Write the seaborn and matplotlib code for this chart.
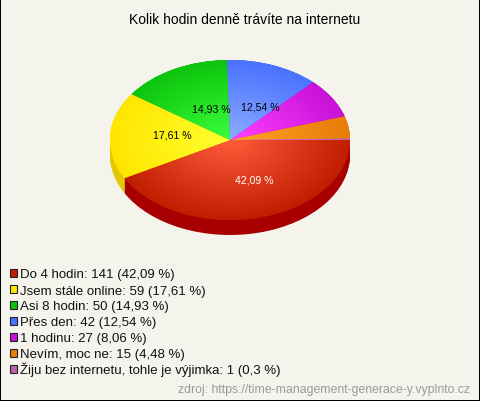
import numpy as np
import matplotlib
matplotlib.use("Agg")
import matplotlib.pyplot as plt
from matplotlib.patches import Rectangle
import seaborn as sns

# Chart data
title = "Kolik hodin denně trávíte na internetu"
source = "zdroj: https://time-management-generace-y.vyplnto.cz"
categories = ["Do 4 hodin", "Jsem stále online", "Asi 8 hodin", "Přes den", "1 hodinu",
              "Nevím, moc ne", "Žiju bez internetu, tohle je výjimka"]
counts = [141, 59, 50, 42, 27, 15, 1]
percents = ["42,09", "17,61", "14,93", "12,54", "8,06", "4,48", "0,3"]

# Colours for each slice
edge_colors = ["#c01e00", "#ffe600", "#0cc40c", "#4a72ff", "#c812d8", "#e87c08", "#c060b0"]
center_colors = ["#ff5c3c", "#ffff30", "#3cff3c", "#8cacff", "#ff40ff", "#ffa424", "#e080d0"]
side_colors = ["#a80000", "#e2c800", "#0a9a0a", "#3a58c8", "#9a10a8", "#b86000", "#90488a"]

WIDTH, HEIGHT = 480, 402
BG = "#f5f4ec"
FONT = "Liberation Sans"


def px_x(x):
    return x / WIDTH


def px_y(y):
    return 1 - y / HEIGHT


sns.set_theme(style="white")
plt.rcParams["font.family"] = FONT

fig = plt.figure(figsize=(WIDTH / 100, HEIGHT / 100), dpi=100,
                 facecolor=BG, edgecolor="black", linewidth=1.2)

# Pie area: ellipse 240 x 160 px with 15 px of depth below it
depth = 15 / 80
ax = fig.add_axes([px_x(110), px_y(236), 240 / WIDTH, 175 / HEIGHT])

# Side of the pie, stacked copies going down
for offset in np.linspace(depth, 0, 16):
    ax.pie(counts, colors=side_colors, startangle=0, counterclock=False, radius=1,
           center=(0, -offset), wedgeprops={"linewidth": 0}, frame=True)

wedges, _ = ax.pie(counts, colors=edge_colors, startangle=0, counterclock=False, radius=1,
                   center=(0, 0), wedgeprops={"linewidth": 0}, frame=True)

# Radial shading on the top of each slice
xx, yy = np.meshgrid(np.linspace(-1, 1, 400), np.linspace(-1, 1, 400))
rr = np.sqrt(xx ** 2 + yy ** 2)
for wedge, inner, outer in zip(wedges, center_colors, edge_colors):
    cmap = sns.blend_palette([inner, outer], as_cmap=True)
    img = ax.imshow(rr, extent=(-1, 1, -1, 1), origin="lower", cmap=cmap, vmin=0, vmax=1,
                    aspect="auto", zorder=3)
    img.set_clip_path(wedge)

ax.set_aspect("auto")
ax.set_xlim(-1, 1)
ax.set_ylim(-1 - depth, 1)
ax.axis("off")

# Percent labels on the four biggest slices
label_xy = [(254, 181), (172, 136), (211, 110), (260, 107)]
label_colors = ["white", "black", "black", "black"]
for pct, (x, y), col in zip(percents, label_xy, label_colors):
    fig.text(px_x(x), px_y(y), f"{pct} %", color=col, fontsize=7.6, ha="center", va="center")

fig.text(px_x(245), px_y(20), title, color="black", fontsize=10, ha="center", va="center")

# Legend below the pie, one row every 16 px
for i, (cat, n, pct, col) in enumerate(zip(categories, counts, percents, edge_colors)):
    row_y = 274 + 16 * i
    fig.add_artist(Rectangle((px_x(9.5), px_y(row_y + 4)), 7 / WIDTH, 8 / HEIGHT, transform=fig.transFigure,
                             facecolor=col, edgecolor="#222222", linewidth=0.8))
    fig.text(px_x(20), px_y(row_y + 4.5), f"{cat}: {n} ({pct} %)", color="#111111",
             fontsize=9.55, ha="left", va="baseline")

fig.text(px_x(470), px_y(390), source, color="#999999", fontsize=8.85, ha="right", va="center")

fig.savefig("out.png", dpi=100)
